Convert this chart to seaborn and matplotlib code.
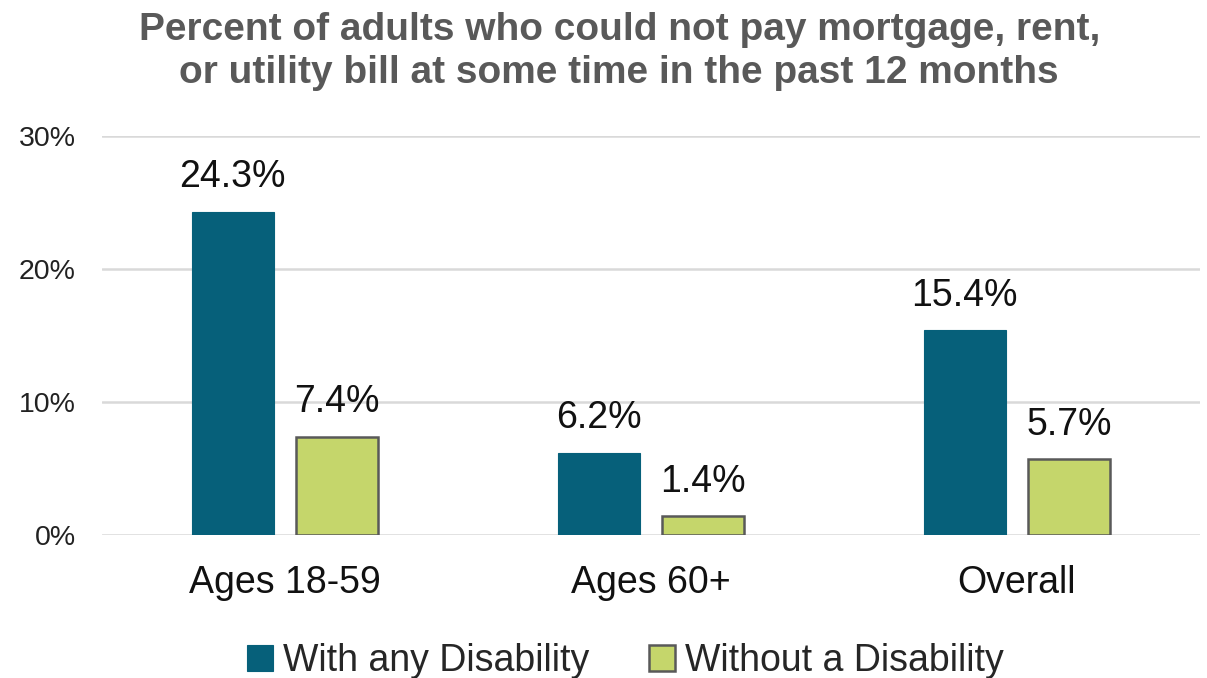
import matplotlib
matplotlib.use("Agg")
import matplotlib.pyplot as plt
import seaborn as sns
import pandas as pd

categories = ["Ages 18-59", "Ages 60+", "Overall"]
with_disability = [24.3, 6.2, 15.4]
without_disability = [7.4, 1.4, 5.7]
series_names = ["With any Disability", "Without a Disability"]
y_ticks = [0, 10, 20, 30]
y_tick_labels = ["0%", "10%", "20%", "30%"]
title_lines = ["Percent of adults who could not pay mortgage, rent,",
               "or utility bill at some time in the past 12 months"]

df = pd.DataFrame({
    "group": categories * 2,
    "series": [series_names[0]] * 3 + [series_names[1]] * 3,
    "value": with_disability + without_disability,
})

sns.set_theme(style="white")
plt.rcParams["font.family"] = ["Liberation Sans", "DejaVu Sans"]

fig = plt.figure(figsize=(12.07, 6.78), dpi=100)
ax = fig.add_axes([0.0845, 0.211, 0.9095, 0.588])

palette = {series_names[0]: "#06607A", series_names[1]: "#C5D66B"}
sns.barplot(data=df, x="group", y="value", hue="series", order=categories,
            hue_order=series_names, palette=palette, width=0.571, gap=0.215,
            saturation=1, ax=ax, legend=True, zorder=3)

edge_colors = {series_names[0]: "#06607A", series_names[1]: "#595959"}
edge_widths = {series_names[0]: 0.8, series_names[1]: 1.8}
for container, name in zip(ax.containers, series_names):
    for bar in container:
        bar.set_edgecolor(edge_colors[name])
        bar.set_linewidth(edge_widths[name])
    ax.bar_label(container, labels=[f"{v:.1f}%" for v in container.datavalues],
                 padding=12, fontsize=27, color="#111111")

ax.set_ylim(0, 30)
ax.set_xlim(-0.5, 2.5)
ax.set_yticks(y_ticks)
ax.set_yticklabels(y_tick_labels, fontsize=20.5, color="#222222")
ax.tick_params(axis="y", length=0, pad=19)
ax.tick_params(axis="x", length=0, pad=22, labelsize=27, labelcolor="#111111")
ax.yaxis.grid(True, color="#D9D9D9", linewidth=1.8, zorder=0)
ax.xaxis.grid(False)
ax.set_axisbelow(True)
for s in ax.spines.values():
    s.set_visible(False)
ax.set_xlabel("")
ax.set_ylabel("")

# two-line title, each line placed on its own baseline
for line, y in zip(title_lines, [0.941, 0.8776]):
    fig.text(0.513, y, line, ha="center", va="baseline", fontsize=28,
             fontweight="bold", color="#595959")

leg = ax.legend(loc="center", bbox_to_anchor=(0.518, 0.025),
                bbox_transform=fig.transFigure, ncol=2, frameon=False,
                fontsize=27, handlelength=0.7, handleheight=0.7,
                handletextpad=0.25, columnspacing=1.6)
for h, name in zip(leg.legend_handles, series_names):
    h.set_edgecolor(edge_colors[name])
    h.set_linewidth(edge_widths[name])

fig.savefig("out.png", dpi=100)
